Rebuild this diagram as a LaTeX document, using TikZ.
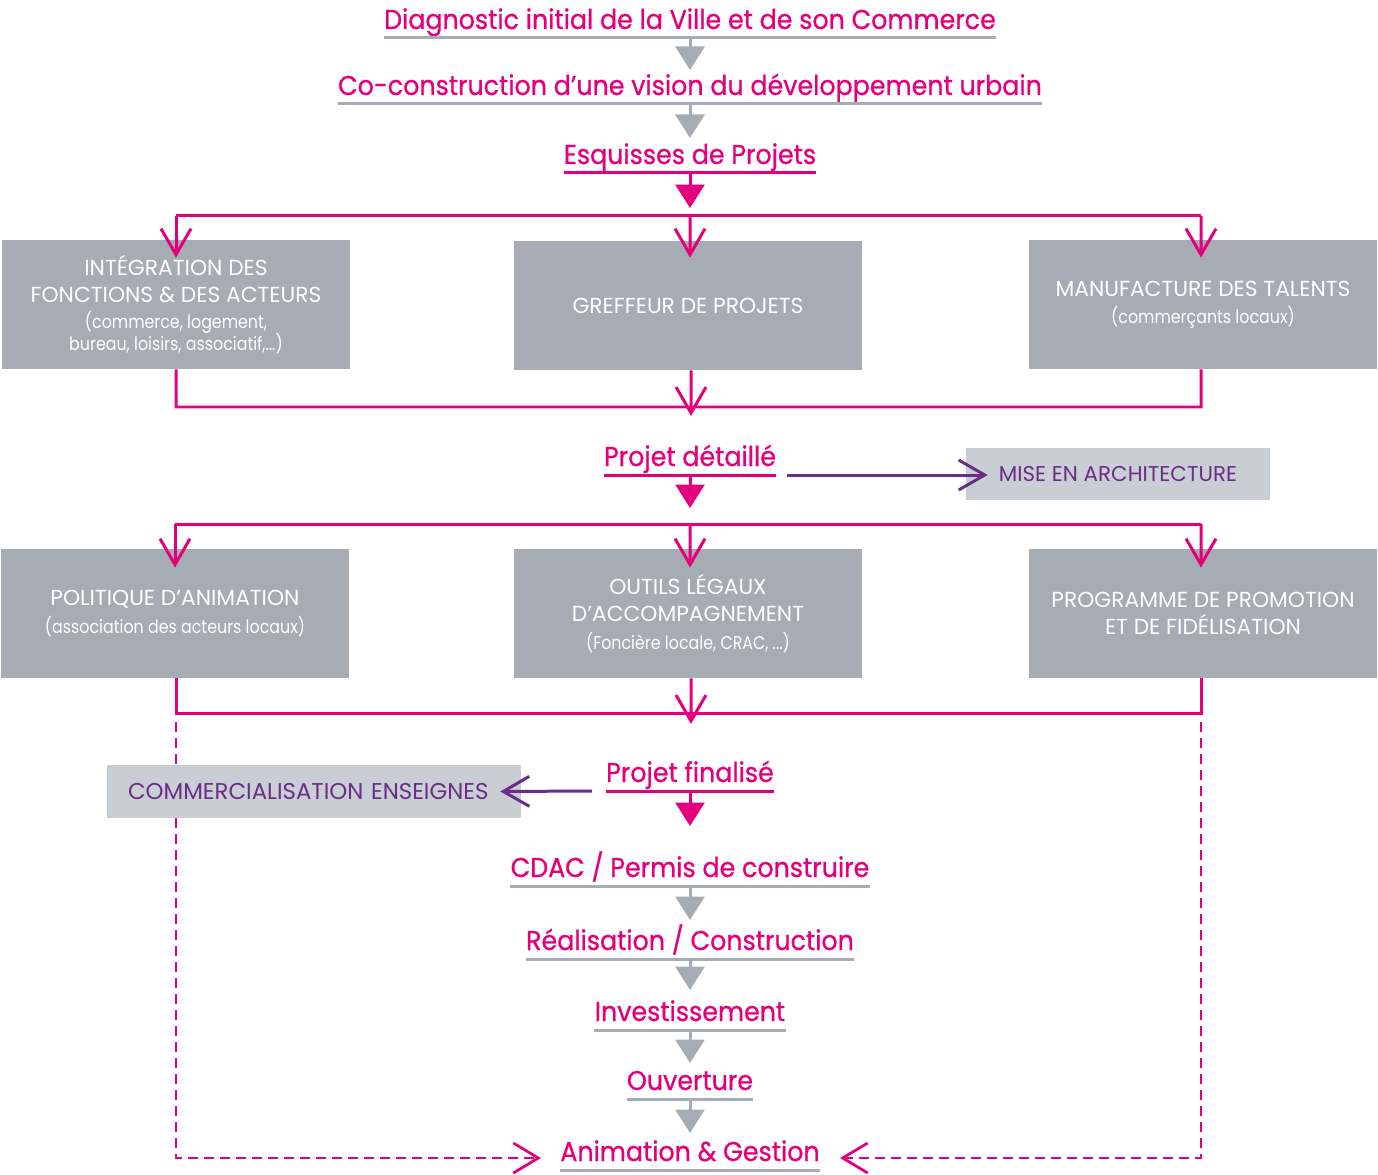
\documentclass[tikz,border=0pt]{standalone}
\usepackage{fontspec}
\setmainfont{Poppins}
\newfontfamily\titre{Poppins}[FakeStretch=0.93, FakeBold=0.8]
\newfontfamily\petit{Poppins}[FakeStretch=0.86]
\usetikzlibrary{arrows.meta,positioning,calc}
\definecolor{rose}{HTML}{E4007D}
\definecolor{gris}{HTML}{A5ACB3}
\definecolor{grisclair}{HTML}{C9CED4}
\definecolor{violet}{HTML}{6B2D87}

\begin{document}
\begin{tikzpicture}[x=0.02cm, y=-0.02cm,
        etape/.style={
            anchor=base,
            inner sep=0pt,
            text=rose,
            font=\titre\fontsize{15.5}{18}\selectfont
        },
        bloc/.style={
            fill=gris,
            minimum width=6.96cm,
            minimum height=2.58cm,
            inner sep=0pt,
            text=white,
            align=center,
            font=\fontsize{12.4}{15.5}\selectfont
        },
        annexe/.style={
            fill=grisclair,
            minimum height=1.05cm,
            inner sep=0pt,
            text=violet,
            font=\fontsize{12.2}{15}\selectfont
        },
        trait/.style={line width=0.06cm},
        souligne/.style={line width=0.06cm},
        fleche/.style={line width=0.06cm, -{Triangle[width=0.58cm, length=0.47cm]}},
        chevron/.style={line width=0.06cm, -{Straight Barb[width=0.6cm, length=0.52cm]}},
        pointille/.style={line width=0.055cm, dash pattern=on 0.2cm off 0.12cm}
    ]
    \useasboundingbox (0,0) rectangle (1378,1175);

    % Etapes
    \node[etape] (diag) at (690,29) {Diagnostic initial de la Ville et de son Commerce};
    \node[etape] (vision) at (690,95) {Co-construction d’une vision du développement urbain};
    \node[etape] (esquisse) at (690,164) {Esquisses de Projets};
    \node[etape] (detail) at (690,466) {Projet détaillé};
    \node[etape] (final) at (690,782) {Projet finalisé};
    \node[etape] (cdac) at (690,877) {CDAC / Permis de construire};
    \node[etape] (realis) at (690,950) {Réalisation / Construction};
    \node[etape] (invest) at (690,1021) {Investissement};
    \node[etape] (ouvert) at (690,1090) {Ouverture};
    \node[etape] (anim) at (690,1161) {Animation \& Gestion};

    % Soulignements
    \draw[souligne, gris] ($(diag.base west)+(0,9)$) -- ($(diag.base east)+(0,9)$);
    \draw[souligne, gris] ($(vision.base west)+(0,9)$) -- ($(vision.base east)+(0,9)$);
    \draw[souligne, rose] ($(esquisse.base west)+(0,9)$) -- ($(esquisse.base east)+(0,9)$);
    \draw[souligne, rose] ($(detail.base west)+(0,9)$) -- ($(detail.base east)+(0,9)$);
    \draw[souligne, rose] ($(final.base west)+(0,9)$) -- ($(final.base east)+(0,9)$);
    \draw[souligne, gris] ($(cdac.base west)+(0,9)$) -- ($(cdac.base east)+(0,9)$);
    \draw[souligne, gris] ($(realis.base west)+(0,9)$) -- ($(realis.base east)+(0,9)$);
    \draw[souligne, gris] ($(invest.base west)+(0,9)$) -- ($(invest.base east)+(0,9)$);
    \draw[souligne, gris] ($(ouvert.base west)+(0,9)$) -- ($(ouvert.base east)+(0,9)$);
    \draw[souligne, gris] ($(anim.base west)+(0,9)$) -- ($(anim.base east)+(0,9)$);

    % Retours pointilles
    \draw[pointille, rose, -{Straight Barb[width=0.6cm, length=0.5cm]}] (176,722) -- (176,1158) -- ($(anim.west |- 0,1158)+(-19,0)$);
    \draw[pointille, rose, -{Straight Barb[width=0.6cm, length=0.5cm]}] (1201,722) -- (1201,1158) -- ($(anim.east |- 0,1158)+(20,0)$);

    % Blocs
    \node[bloc] (integ) at (176,304.5) {INTÉGRATION DES\\FONCTIONS \& DES ACTEURS\\[-1pt]
        {\petit\fontsize{10.5}{13}\selectfont (commerce, logement,}\\[-3pt]
        {\petit\fontsize{10.5}{13}\selectfont bureau, loisirs, associatif,...)}};
    \node[bloc] (greffe) at (688,305.5) {GREFFEUR DE PROJETS};
    \node[bloc] (manuf) at (1203,304.5) {MANUFACTURE DES TALENTS\\
        {\petit\fontsize{10.5}{13}\selectfont (commerçants locaux)}};

    \node[bloc] (anima) at (175,613.5) {POLITIQUE D’ANIMATION\\
        {\petit\fontsize{10.5}{13}\selectfont (association des acteurs locaux)}};
    \node[bloc] (outils) at (688,613.5) {OUTILS LÉGAUX\\D’ACCOMPAGNEMENT\\
        {\petit\fontsize{10.5}{13}\selectfont (Foncière locale, CRAC, ...)}};
    \node[bloc] (promo) at (1203,613.5) {PROGRAMME DE PROMOTION\\ET DE FIDÉLISATION};

    \node[annexe, minimum width=6.08cm] (archi) at (1118,474) {MISE EN ARCHITECTURE};
    \node[annexe, minimum width=8.28cm, text width=7.44cm, align=left, font=\fontsize{13}{15}\selectfont] (commerc) at (314,791.5) {COMMERCIALISATION ENSEIGNES};

    % Bus
    \coordinate (bus1) at (690,216);
    \coordinate (bus2) at (690,407);
    \coordinate (bus3) at (690,524);
    \coordinate (bus4) at (690,713);

    % Fleches grises
    \draw[fleche, gris] ($(diag.base)+(0,9)$) -- ($(vision.base)+(0,-25)$);
    \draw[fleche, gris] ($(vision.base)+(0,9)$) -- ($(esquisse.base)+(0,-26)$);
    \draw[fleche, gris] ($(cdac.base)+(0,9)$) -- ($(realis.base)+(0,-30)$);
    \draw[fleche, gris] ($(realis.base)+(0,9)$) -- ($(invest.base)+(0,-31)$);
    \draw[fleche, gris] ($(invest.base)+(0,10)$) -- ($(ouvert.base)+(0,-27)$);
    \draw[fleche, gris] ($(ouvert.base)+(0,9)$) -- ($(anim.base)+(0,-28)$);

    % Fleches roses
    \draw[fleche, rose] ($(esquisse.base)+(0,9)$) -- ($(bus1)+(0,-8)$);
    \draw[fleche, rose] ($(detail.base)+(0,9)$) -- ($(bus3)+(0,-16)$);
    \draw[fleche, rose] ($(final.base)+(0,9)$) -- ($(cdac.base)+(0,-51)$);

    % Premier niveau
    \draw[trait, rose] (integ.north |- bus1) -- (1201,216);
    \draw[chevron, rose] (integ.north |- bus1) -- ([yshift=-0.36cm]integ.north);
    \draw[chevron, rose] (bus1) -- ([xshift=0.04cm, yshift=-0.34cm]greffe.north);
    \draw[chevron, rose] (1201,216) -- ([xshift=-0.04cm, yshift=-0.36cm]manuf.north);
    \draw[trait, rose] (integ.south) -- (integ.south |- bus2) -- (1201,407) -- ([xshift=-0.04cm]manuf.south);
    \draw[chevron, rose] ([xshift=0.06cm]greffe.south) -- ($(bus2)+(1,9)$);

    % Second niveau
    \draw[trait, rose] (anima.north |- bus3) -- (1201,524);
    \draw[chevron, rose] (anima.north |- bus3) -- ([yshift=-0.38cm]anima.north);
    \draw[chevron, rose] (bus3) -- ([xshift=0.04cm, yshift=-0.38cm]outils.north);
    \draw[chevron, rose] (1201,524) -- ([xshift=-0.04cm, yshift=-0.38cm]promo.north);
    \draw[trait, rose] (176,678) -- (176,713) -- (1201,713) -- (1201,678);
    \draw[chevron, rose] ([xshift=0.06cm]outils.south) -- ($(bus4)+(1,11)$);

    % Annexes
    \draw[chevron, violet] ($(detail.base east)+(11,9)$) -- ($(archi.west)+(22,1)$);
    \draw[chevron, violet] ($(final.base west)+(-14,9)$) -- ($(commerc.east)+(-21,0)$);

    \end{tikzpicture}
\end{document}
